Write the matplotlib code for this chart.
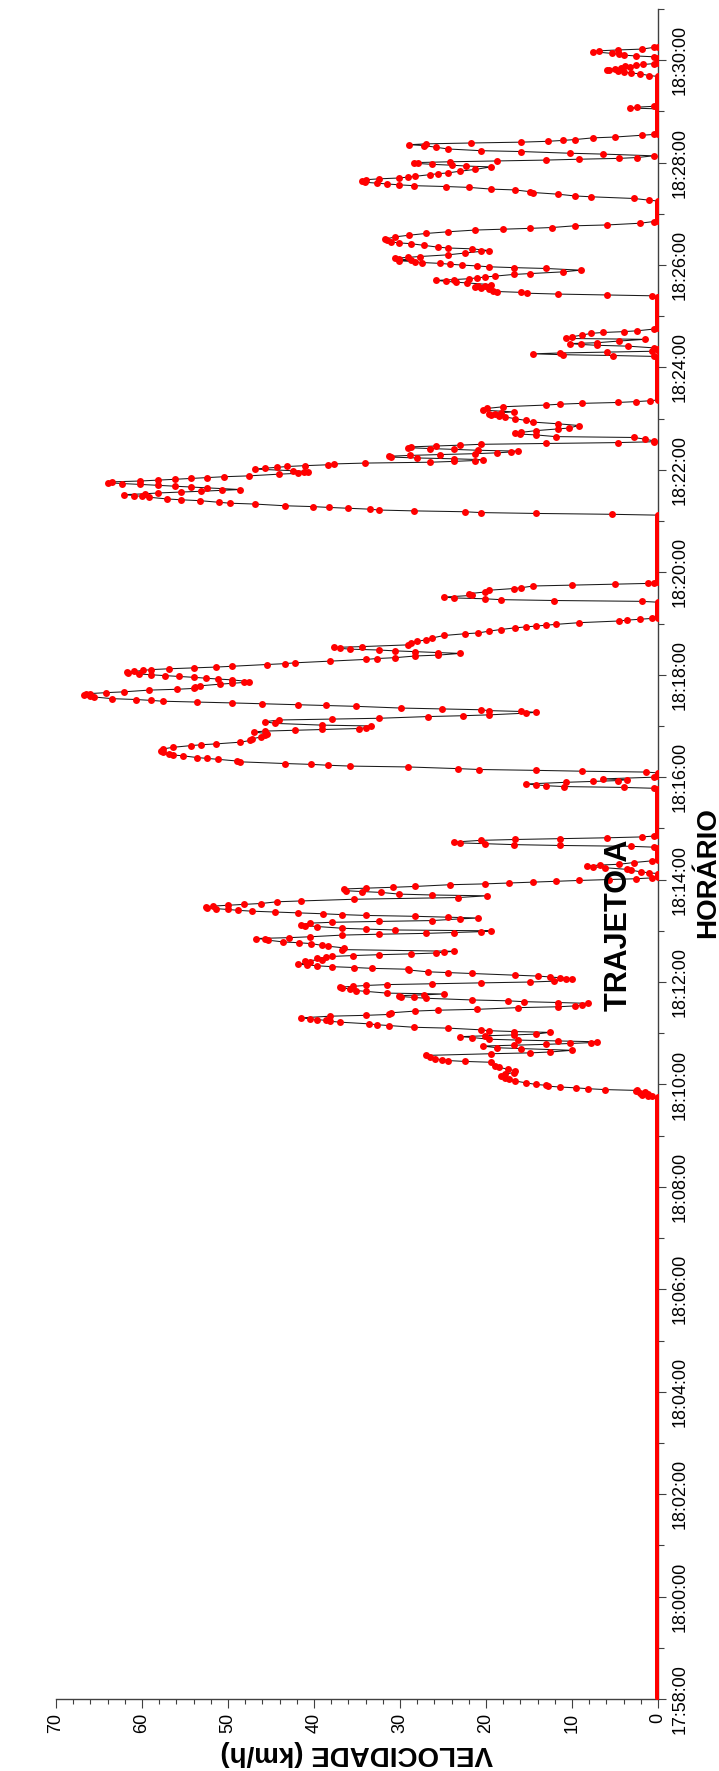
import numpy as np
import matplotlib.pyplot as plt
from matplotlib.ticker import MultipleLocator, FuncFormatter

plt.rcParams['font.family'] = ['Liberation Sans', 'DejaVu Sans']

# ==============================
# DATA  (time = seconds after 18:00:00, one GPS fix per second)
# ==============================
# stretches where the vehicle is standing still (speed 0 every second)
stop_spans = [(-118, 585), (843, 847), (863, 877), (892, 946), (961, 965),
              (1147, 1165), (1189, 1267), (1402, 1452), (1460, 1462),
              (1486, 1523), (1612, 1635), (1714, 1743), (1747, 1781),
              (1797, 1803), (1816, 1816)]

# 18:09:46 - 18:14:02
run1_t = [586, 587, 588, 589, 590, 591, 592, 593, 594, 595, 596, 597, 598, 599, 600, 602, 604, 606,
          608, 610, 612, 614, 616, 618, 620, 622, 626, 627, 628, 629, 630, 632, 634, 636, 637, 638,
          640, 642, 643, 645, 646, 647, 648, 649, 650, 651, 652, 653, 655, 656, 657, 658, 659, 661,
          662, 663, 664, 666, 667, 669, 670, 671, 673, 674, 675, 676, 677, 678, 680, 681, 682, 684,
          686, 687, 688, 690, 691, 692, 693, 695, 696, 697, 698, 699, 701, 702, 703, 704, 705, 706,
          707, 709, 710, 712, 713, 714, 715, 716, 717, 718, 719, 720, 721, 723, 724, 725, 726, 727,
          728, 730, 731, 732, 734, 735, 736, 737, 738, 739, 740, 741, 743, 745, 746, 748, 749, 750,
          751, 752, 753, 754, 755, 756, 758, 760, 762, 763, 765, 766, 767, 769, 770, 771, 772, 773,
          775, 776, 777, 778, 779, 780, 781, 782, 783, 785, 786, 787, 789, 790, 791, 792, 794, 795,
          796, 797, 798, 799, 800, 801, 802, 803, 804, 805, 806, 807, 808, 809, 810, 811, 812, 814,
          815, 817, 819, 821, 822, 823, 825, 826, 827, 829, 830, 831, 832, 834, 835, 836, 837, 838,
          839, 840, 841, 842]
run1_v = [0.7, 1.2, 1.9, 1.2, 2.1, 1.5, 2.6, 2.4, 6.2, 8.1, 9.5, 11.4, 12.8, 13.0, 14.2, 15.4, 16.6, 17.3,
          17.8, 18.3, 17.8, 16.8, 16.6, 17.5, 18.5, 19.0, 19.4, 22.5, 24.4, 25.1, 25.9, 26.5, 27.0, 19.4, 14.9, 12.6,
          10.0, 15.9, 18.7, 20.4, 16.8, 13.0, 10.2, 7.8, 7.1, 11.6, 16.3, 19.7, 21.6, 23.0, 20.1, 16.8, 14.2, 12.6,
          16.8, 19.7, 20.6, 24.4, 28.4, 31.3, 32.7, 33.6, 37.0, 38.1, 38.6, 39.6, 40.5, 41.5, 38.1, 33.9, 31.3, 31.0,
          28.2, 25.6, 21.1, 16.3, 11.6, 9.7, 8.8, 8.1, 11.6, 15.6, 17.5, 21.6, 27.0, 28.4, 29.9, 30.1, 27.2, 24.9,
          31.5, 33.9, 35.1, 35.8, 36.7, 37.0, 35.5, 33.9, 31.5, 26.3, 20.6, 14.9, 12.1, 10.7, 10.0, 11.4, 12.6, 14.0,
          16.6, 21.6, 24.4, 26.8, 28.9, 29.1, 33.2, 35.3, 37.9, 39.6, 40.8, 41.9, 40.5, 41.0, 39.1, 39.6, 38.6, 37.9,
          35.5, 32.5, 28.7, 25.8, 24.9, 23.7, 36.7, 36.5, 38.4, 39.1, 40.3, 41.7, 43.6, 45.3, 45.7, 46.7, 42.9, 40.5,
          36.7, 32.5, 27.0, 23.7, 20.6, 19.4, 30.6, 33.9, 36.7, 39.6, 41.0, 41.5, 40.5, 37.9, 32.5, 26.3, 23.0, 20.9,
          24.4, 28.2, 33.9, 36.8, 39.0, 41.9, 44.5, 47.2, 48.8, 50.0, 51.4, 52.4, 52.6, 51.7, 50.0, 48.1, 46.2, 44.3,
          41.5, 35.3, 23.2, 19.9, 26.3, 30.1, 32.2, 34.4, 36.3, 36.5, 33.9, 30.8, 28.2, 24.2, 20.1, 17.3, 14.5, 11.9,
          9.2, 5.7, 2.6, 0.7]

# short moves 18:14 - 18:16
run2_t = [848, 849, 851, 852, 854, 855, 856, 857, 858, 860, 862,
          878, 879, 880, 881, 882, 883, 884, 886, 887, 888, 889, 890, 891,
          947, 948, 949, 950, 951, 952, 954, 955, 956, 957, 958, 960]
run2_v = [1.0, 2.0, 3.1, 3.6, 6.2, 7.6, 8.3, 6.8, 4.5, 2.8, 0.7,
          0.5, 3.1, 11.4, 16.8, 20.1, 23.0, 23.7, 20.6, 16.6, 11.4, 5.9, 1.9, 0.5,
          0.5, 4.0, 10.9, 13.0, 14.2, 15.4, 10.7, 7.6, 4.7, 3.6, 6.4, 0.5]

# 18:16:06 - 18:19:06
run3_t = [966, 967, 968, 969, 970, 972, 973, 974, 975, 976, 978, 979, 981, 982, 983, 985, 986, 987,
          989, 991, 993, 995, 997, 998, 999, 1001, 1003, 1005, 1007, 1009, 1011, 1013, 1014, 1015, 1016, 1017,
          1018, 1020, 1021, 1023, 1025, 1027, 1028, 1029, 1031, 1032, 1033, 1035, 1036, 1037, 1038, 1039, 1040, 1041,
          1043, 1044, 1045, 1046, 1047, 1048, 1049, 1050, 1051, 1052, 1054, 1055, 1056, 1057, 1058, 1059, 1060, 1062,
          1063, 1064, 1066, 1067, 1069, 1070, 1071, 1072, 1074, 1075, 1076, 1077, 1078, 1079, 1080, 1081, 1082, 1083,
          1084, 1085, 1086, 1087, 1088, 1089, 1090, 1092, 1093, 1094, 1096, 1098, 1099, 1100, 1102, 1103, 1105, 1106,
          1107, 1108, 1109, 1110, 1111, 1112, 1113, 1115, 1117, 1119, 1121, 1123, 1126, 1128, 1129, 1131, 1133, 1135,
          1136, 1137, 1138, 1139, 1141, 1143, 1144, 1145, 1146]
run3_v = [1.4, 8.8, 14.2, 20.8, 23.2, 29.1, 35.8, 38.4, 40.3, 43.4, 48.6, 49.0, 51.2, 52.4, 53.6, 55.2, 56.4, 56.9,
          57.6, 57.8, 57.6, 56.4, 54.3, 53.1, 51.4, 48.6, 47.4, 47.2, 46.2, 45.7, 45.5, 47.0, 45.7, 42.2, 39.1, 34.8,
          33.9, 33.4, 39.1, 44.5, 45.7, 44.1, 37.9, 32.5, 26.8, 22.7, 19.7, 15.4, 14.2, 15.9, 19.7, 20.6, 25.1, 29.9,
          35.1, 38.6, 41.9, 46.0, 49.5, 53.6, 57.6, 59.0, 60.7, 63.5, 65.6, 66.1, 66.8, 66.5, 66.0, 64.2, 62.1, 59.2,
          55.9, 54.0, 53.8, 53.3, 50.9, 49.5, 48.1, 47.6, 49.5, 51.2, 52.6, 54.0, 55.7, 57.3, 59.0, 60.4, 61.6, 61.8,
          60.9, 59.9, 59.0, 56.9, 54.0, 51.4, 49.5, 45.5, 43.4, 42.2, 38.1, 33.9, 32.7, 30.6, 28.2, 25.6, 23.0, 25.6,
          28.2, 30.6, 32.5, 35.8, 37.0, 37.7, 34.4, 29.1, 28.7, 28.0, 27.0, 26.3, 24.9, 22.5, 20.9, 19.7, 18.3, 16.6,
          15.4, 14.2, 13.0, 11.9, 9.2, 4.5, 3.6, 2.1, 0.7]

# 18:19:26 - 18:19:48
run4_t = [1166, 1167, 1168, 1169, 1170, 1171, 1173, 1175, 1177, 1179, 1181, 1182, 1184, 1185, 1186, 1187, 1188]
run4_v = [1.9, 12.1, 18.3, 20.1, 23.7, 24.9, 21.6, 22.0, 20.1, 19.7, 16.8, 15.9, 14.5, 10.0, 5.0, 1.2, 0.5]

# 18:21:08 - 18:23:21
run5_t = [1268, 1269, 1270, 1271, 1272, 1273, 1274, 1275, 1276, 1277, 1278, 1280, 1281, 1282, 1284, 1285, 1286, 1288,
          1289, 1290, 1291, 1292, 1293, 1294, 1295, 1296, 1297, 1299, 1300, 1301, 1302, 1303, 1304, 1305, 1306, 1307,
          1308, 1309, 1310, 1311, 1312, 1313, 1315, 1316, 1317, 1318, 1319, 1321, 1322, 1323, 1324, 1325, 1326, 1327,
          1328, 1329, 1330, 1331, 1332, 1333, 1334, 1335, 1336, 1337, 1338, 1339, 1340, 1341, 1342, 1343, 1344, 1345,
          1346, 1347, 1348, 1349, 1350, 1351, 1352, 1353, 1354, 1356, 1358, 1359, 1361, 1362, 1363, 1364, 1366, 1368,
          1369, 1372, 1374, 1376, 1378, 1380, 1382, 1383, 1384, 1385, 1386, 1387, 1388, 1390, 1392, 1394, 1396, 1397,
          1398, 1399, 1400, 1401]
run5_v = [5.4, 14.2, 20.6, 22.5, 28.4, 32.5, 33.5, 36.0, 38.2, 40.1, 43.4, 46.9, 49.8, 51.0, 53.3, 55.5, 57.1, 59.2,
          60.0, 60.9, 62.1, 59.7, 58.1, 55.5, 53.1, 50.7, 48.6, 52.4, 54.3, 56.2, 58.1, 60.2, 62.3, 64.0, 63.5, 60.2,
          58.1, 56.2, 54.3, 52.4, 50.5, 47.6, 44.1, 41.9, 41.2, 40.7, 42.4, 46.9, 45.7, 44.3, 43.1, 41.0, 38.4, 37.7,
          34.1, 26.5, 23.7, 21.3, 20.4, 23.7, 28.0, 31.0, 31.3, 28.8, 25.3, 21.3, 18.7, 17.1, 16.3, 20.9, 23.7, 26.5,
          29.1, 28.7, 25.8, 23.0, 20.6, 13.0, 4.7, 0.5, 0.5, 1.5, 2.8, 11.9, 14.2, 16.1, 16.6, 15.9, 14.2, 11.6,
          10.4, 9.2, 11.6, 14.5, 15.4, 16.6, 17.8, 18.5, 19.4, 19.7, 19.0, 18.3, 16.8, 20.4, 19.9, 18.0, 13.0, 11.4,
          8.8, 4.7, 2.6, 0.9]

# short moves 18:24
run6_t = [1453, 1454, 1455, 1456, 1457, 1458, 1459,
          1463, 1465, 1466, 1467, 1468, 1469, 1471, 1473, 1474, 1476, 1478, 1480, 1481, 1482, 1483, 1485]
run6_v = [0.5, 5.2, 11.1, 14.5, 11.4, 5.9, 0.7,
          0.5, 3.5, 7.1, 9.0, 10.2, 7.1, 4.5, 1.5, 10.7, 10.0, 8.8, 7.8, 6.4, 4.0, 2.4, 0.5]

# 18:25:24 - 18:26:51
run7_t = [1524, 1525, 1526, 1527, 1528, 1529, 1530, 1532, 1533, 1534, 1535, 1536, 1537, 1539, 1540, 1541, 1542, 1543,
          1544, 1545, 1546, 1547, 1549, 1550, 1552, 1554, 1556, 1557, 1558, 1559, 1560, 1561, 1562, 1563, 1564, 1565,
          1566, 1567, 1568, 1569, 1570, 1572, 1574, 1576, 1577, 1579, 1580, 1581, 1583, 1585, 1586, 1587, 1589, 1590,
          1593, 1595, 1597, 1599, 1601, 1602, 1603, 1604, 1606, 1607, 1609, 1611]
run7_v = [0.7, 5.9, 11.6, 15.2, 15.9, 18.7, 19.2, 19.7, 20.6, 21.3, 20.9, 20.1, 19.4, 22.2, 23.5, 24.6, 25.8, 23.7,
          22.0, 21.1, 20.1, 19.0, 16.8, 14.9, 11.1, 9.0, 13.0, 16.8, 19.7, 21.1, 22.8, 24.2, 25.4, 27.5, 28.2, 30.1,
          28.7, 30.1, 30.6, 29.1, 27.7, 24.4, 22.5, 20.6, 19.7, 21.6, 24.4, 25.6, 27.2, 28.7, 30.1, 31.0, 31.5, 31.8,
          30.6, 28.9, 27.0, 24.4, 21.3, 18.0, 14.9, 12.3, 9.7, 5.9, 2.1, 0.5]

# 18:27:16 - 18:28:33
run8_t = [1636, 1638, 1640, 1641, 1643, 1645, 1646, 1648, 1649, 1651, 1652, 1653, 1654, 1655, 1656, 1657, 1658, 1660,
          1661, 1662, 1663, 1664, 1666, 1667, 1668, 1670, 1672, 1675, 1676, 1677, 1678, 1679, 1680, 1681, 1682, 1683,
          1684, 1685, 1686, 1688, 1690, 1691, 1693, 1694, 1696, 1698, 1700, 1701, 1702, 1703, 1704, 1705, 1706, 1707,
          1709, 1710, 1712, 1713]
run8_v = [1.0, 2.8, 7.8, 9.7, 11.6, 14.5, 14.9, 16.6, 19.4, 22.0, 24.6, 28.4, 30.1, 31.5, 32.7, 34.1, 34.4, 33.9,
          32.5, 30.1, 29.1, 28.2, 26.5, 25.6, 24.4, 23.0, 21.3, 19.4, 22.3, 24.0, 26.3, 27.9, 28.4, 24.2, 18.7, 13.0,
          9.2, 4.5, 2.4, 0.5, 6.4, 10.2, 15.9, 20.6, 24.4, 25.8, 27.2, 28.9, 27.0, 21.8, 15.9, 12.8, 11.1, 9.7,
          7.6, 5.0, 1.9, 0.5]

# creeping 18:29 - 18:30:15
run9_t = [1744, 1745, 1746,
          1782, 1784, 1785, 1786, 1787, 1788, 1789, 1790, 1791, 1792, 1793, 1794, 1795, 1796,
          1804, 1805, 1806, 1807, 1808, 1810, 1811, 1812, 1813, 1815]
run9_v = [3.3, 2.4, 0.5,
          1.0, 2.1, 3.1, 4.0, 4.7, 5.7, 5.9, 5.0, 4.3, 3.3, 3.8, 2.6, 1.7, 0.5,
          0.5, 2.6, 4.0, 4.5, 5.4, 7.6, 6.9, 4.7, 1.9, 0.5]

# ==============================
# ASSEMBLE SERIES
# ==============================
t_parts = [run1_t, run2_t, run3_t, run4_t, run5_t, run6_t, run7_t, run8_t, run9_t]
v_parts = [run1_v, run2_v, run3_v, run4_v, run5_v, run6_v, run7_v, run8_v, run9_v]
for a, b in stop_spans:
    stop_t = np.arange(a, b + 1)
    t_parts.append(stop_t)
    v_parts.append(np.zeros(len(stop_t)))

t = np.concatenate([np.asarray(p, dtype=float) for p in t_parts])
v = np.concatenate([np.asarray(p, dtype=float) for p in v_parts])
order = np.argsort(t, kind='stable')
t = t[order]
v = v[order]


def hms(sec, pos=None):
    s = int(round(18 * 3600 + sec))
    return f"{s // 3600:02d}:{s % 3600 // 60:02d}:{s % 60:02d}"


# ==============================
# PLOT (page is printed sideways: speed runs right-to-left, time bottom-to-top)
# ==============================
W, H = 719, 1771
fig = plt.figure(figsize=(W / 100, H / 100), dpi=100)
ax = fig.add_axes([56 / W, (H - 1699) / H, 602 / W, 1690 / H])

ax.plot(v, t, color='#1a1a1a', lw=0.75, zorder=2)
ax.plot(v, t, ls='none', marker='o', ms=5.0, mfc='#ff0000', mec='#ff0000', mew=0, zorder=3)

ax.set_xlim(70, 0)
ax.set_ylim(-120, 1860)

ax.xaxis.set_major_locator(MultipleLocator(10))
ax.xaxis.set_minor_locator(MultipleLocator(2))
ax.yaxis.set_major_locator(MultipleLocator(120))
ax.yaxis.set_minor_locator(MultipleLocator(60))
ax.yaxis.set_major_formatter(FuncFormatter(hms))
ax.yaxis.tick_right()

for side in ['left', 'top']:
    ax.spines[side].set_visible(False)
for side in ['bottom', 'right']:
    ax.spines[side].set_color('#404040')
    ax.spines[side].set_linewidth(1.0)
    ax.spines[side].set_zorder(1)

ax.tick_params(axis='x', which='major', direction='out', length=6.5, width=0.8, color='#404040',
               pad=3.6, labelsize=13, labelrotation=90)
ax.tick_params(axis='x', which='minor', direction='out', length=3.6, width=0.8, color='#404040')
ax.tick_params(axis='y', which='major', direction='out', length=5.8, width=0.8, color='#404040',
               pad=4.3, labelsize=13, labelrotation=90, left=False, right=True)
ax.tick_params(axis='y', which='minor', direction='out', length=4.3, width=0.8, color='#404040',
               left=False, right=True)
for tick in ax.yaxis.get_major_ticks():
    tick.label2.set_va('center')

ax.set_xlabel('VELOCIDADE (km/h)', fontsize=20, fontweight='bold', rotation=180)
ax.xaxis.label.set_rotation_mode('default')
ax.xaxis.set_label_coords(0.5, (1699 - 1740) / 1690)

ax.yaxis.set_label_position('right')
ax.set_ylabel('HORÁRIO', fontsize=20, fontweight='bold', rotation=90)
ax.yaxis.label.set_rotation_mode('default')
ax.yaxis.label.set_ha('left')
ax.yaxis.label.set_va('center')
ax.yaxis.set_label_coords((695 - 56) / 602, (1699 - 873) / 1690)

fig.text(619 / W, 1 - 925 / H, 'TRAJETO A', rotation=90, fontsize=22, fontweight='bold',
         ha='center', va='center')

fig.savefig('out.png', dpi=100)
